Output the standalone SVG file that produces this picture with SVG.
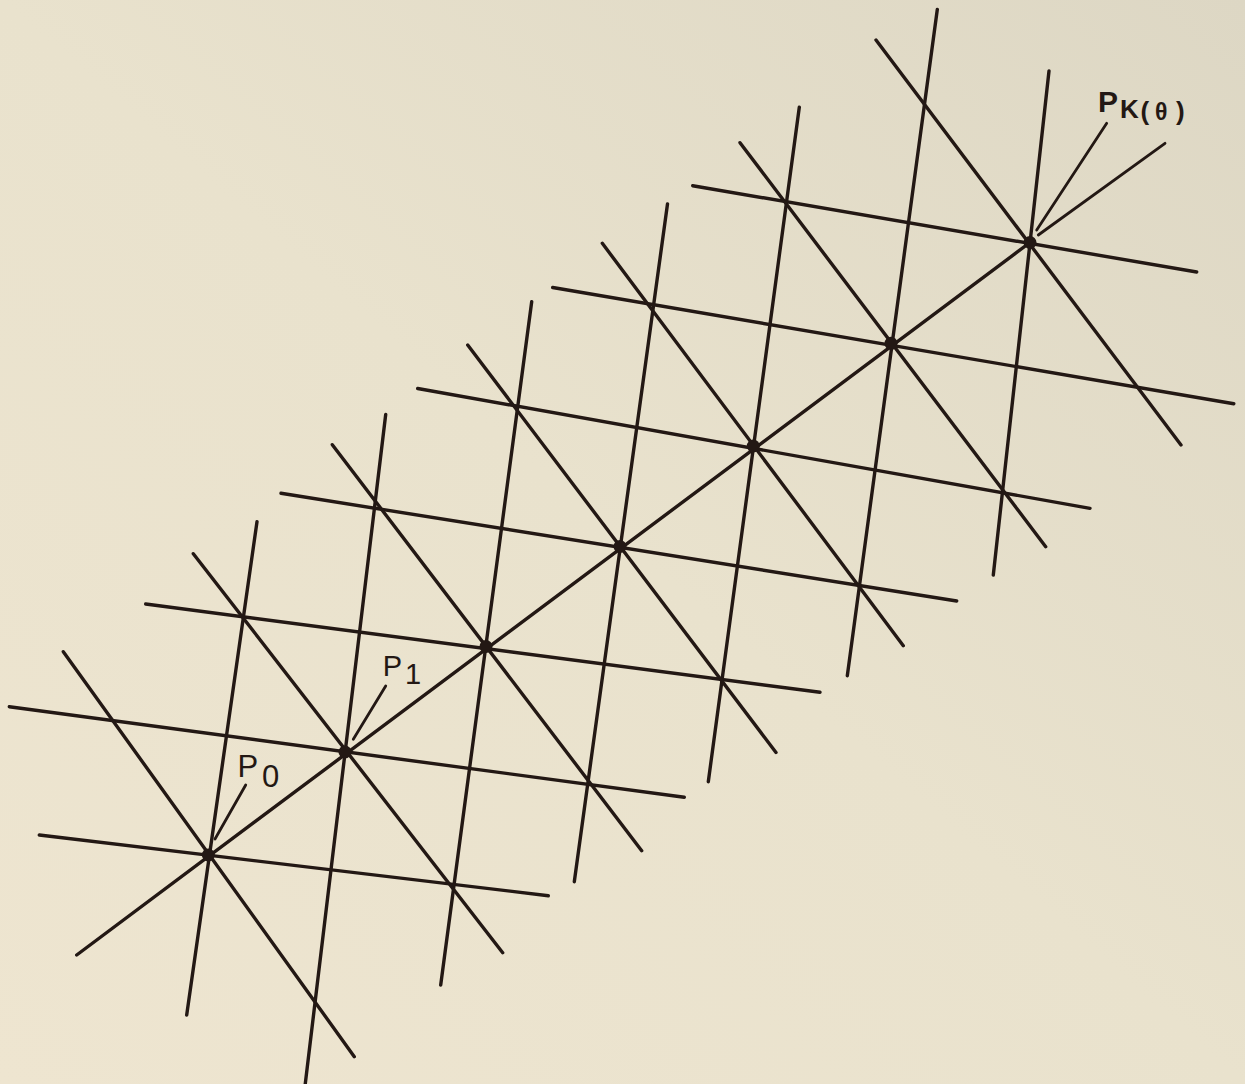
<svg xmlns="http://www.w3.org/2000/svg" width="1245" height="1084" viewBox="0 0 1245 1084">
  <defs>
    <linearGradient id="bg" x1="0" y1="1" x2="1" y2="0">
      <stop offset="0" stop-color="#eee5d0"/>
      <stop offset="0.5" stop-color="#e9e2cd"/>
      <stop offset="1" stop-color="#ddd7c4"/>
    </linearGradient>
    <style>
      .ln { stroke: #231814; stroke-width: 3.4; stroke-linecap: round; fill: none; }
      .ld { stroke: #231814; stroke-width: 2.8; stroke-linecap: round; fill: none; }
      .pt { fill: #231814; }
      .lbl { font-family: "Liberation Sans", Arial, sans-serif; fill: #231814; }
    </style>
  </defs>
  <rect x="0" y="0" width="1245" height="1084" fill="url(#bg)"/>

  <g id="connectors">
    <g id="vertical-lines">
      <line class="ln" x1="257" y1="521.7" x2="186.7" y2="1015"/>
      <line class="ln" x1="385.7" y1="414.5" x2="305" y2="1086"/>
      <line class="ln" x1="531.7" y1="301.7" x2="440.7" y2="985"/>
      <line class="ln" x1="667.5" y1="204" x2="574.3" y2="881.7"/>
      <line class="ln" x1="799.3" y1="107.3" x2="708.3" y2="781.7"/>
      <line class="ln" x1="937.3" y1="9.5" x2="847.3" y2="675.7"/>
      <line class="ln" x1="1049" y1="71" x2="993.3" y2="575"/>
    </g>
    <g id="horizontal-lines">
      <line class="ln" x1="39.3" y1="835" x2="548.3" y2="895.7"/>
      <line class="ln" x1="9.3" y1="706.7" x2="684.3" y2="797.3"/>
      <line class="ln" x1="145.7" y1="604" x2="820" y2="692.3"/>
      <line class="ln" x1="281" y1="493.3" x2="956.7" y2="601"/>
      <line class="ln" x1="417.7" y1="388.5" x2="1090" y2="508.3"/>
      <line class="ln" x1="552.7" y1="287.5" x2="1233.8" y2="403.7"/>
      <line class="ln" x1="692.7" y1="185.7" x2="1196.7" y2="272"/>
    </g>
    <g id="diagonal-lines">
      <line class="ln" x1="63.3" y1="651.7" x2="354.3" y2="1056.7"/>
      <line class="ln" x1="193.3" y1="553.7" x2="502.7" y2="952.7"/>
      <line class="ln" x1="332.3" y1="444.7" x2="641.7" y2="850.7"/>
      <line class="ln" x1="467.7" y1="345" x2="776" y2="752.5"/>
      <line class="ln" x1="602.3" y1="243.3" x2="903.3" y2="645.7"/>
      <line class="ln" x1="740" y1="142.7" x2="1045.7" y2="546.7"/>
      <line class="ln" x1="876" y1="40" x2="1181" y2="445"/>
    </g>
    <g id="main-diagonal">
      <line class="ln" x1="76.7" y1="955" x2="1030" y2="242.5"/>
    </g>
    <g id="leaders">
      <line class="ld" x1="245.7" y1="785" x2="215" y2="839"/>
      <line class="ld" x1="385.7" y1="686" x2="353.3" y2="739.3"/>
      <line class="ld" x1="1106.7" y1="123.3" x2="1036.7" y2="230"/>
      <line class="ld" x1="1165" y1="143.3" x2="1038.3" y2="235"/>
    </g>
  </g>

  <g id="P0">
    <circle class="pt" cx="208.3" cy="855" r="6.5"/>
    <text class="lbl" font-size="31"><tspan x="237.5" y="777">P</tspan><tspan x="262" y="787">0</tspan></text>
  </g>
  <g id="P1">
    <circle class="pt" cx="345" cy="752" r="6.5"/>
    <text class="lbl" font-size="29"><tspan x="382.8" y="676">P</tspan><tspan x="405" y="684">1</tspan></text>
  </g>
  <g id="P2"><circle class="pt" cx="486" cy="646.5" r="6.5"/></g>
  <g id="P3"><circle class="pt" cx="620" cy="546.5" r="6.5"/></g>
  <g id="P4"><circle class="pt" cx="753.3" cy="446" r="6.5"/></g>
  <g id="P5"><circle class="pt" cx="891" cy="343.3" r="6.5"/></g>
  <g id="P6">
    <circle class="pt" cx="1030" cy="242.5" r="6.5"/>
    <text class="lbl" font-weight="bold"><tspan x="1098" y="112" font-size="30">P</tspan><tspan x="1120" y="118" font-size="26">K</tspan><tspan x="1140.5" y="120" font-size="26">(</tspan><tspan x="1155" y="120" font-size="23">θ</tspan><tspan x="1176" y="120" font-size="26">)</tspan></text>
  </g>
</svg>
